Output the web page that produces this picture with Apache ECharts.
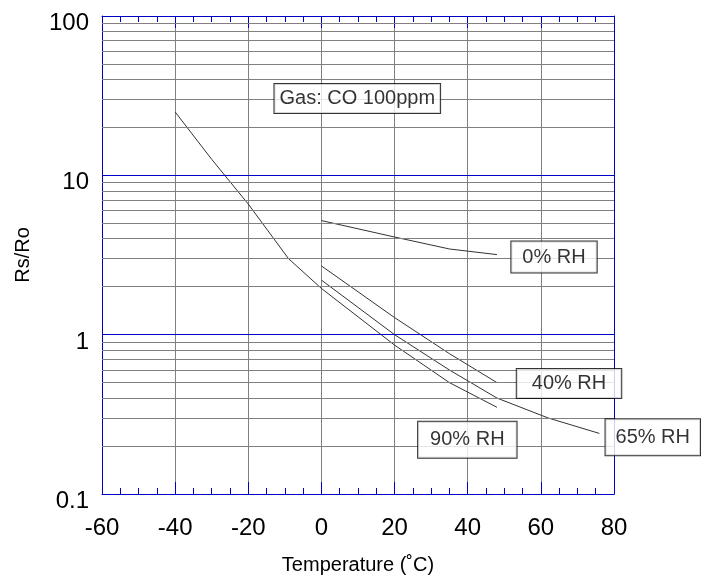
<!DOCTYPE html>
<html><head><meta charset="utf-8">
<script src="https://cdn.jsdelivr.net/npm/echarts@6/dist/echarts.min.js"></script>
<style>html,body{margin:0;padding:0;background:#fff}#c{width:705px;height:576px}</style>
</head><body><div id="c"></div>
<script>
// ---- data ----
const xTickLabels = [-60, -40, -20, 0, 20, 40, 60, 80];
const yTickLabels = [0.1, 1, 10, 100];
const yGridValues = [0.2, 0.3, 0.4, 0.5, 0.6, 0.7, 0.8, 0.9,
                     2, 3, 4, 5, 6, 7, 8, 9,
                     20, 30, 40, 50, 60, 70, 80, 90];
const yDecadeLines = [1, 10];

const temp0 = [0, 20, 35, 48];
const rs0 = [5.2, 4.1, 3.45, 3.18];
const temp40 = [0, 20, 35, 48];
const rs40 = [2.7, 1.28, 0.76, 0.5];
const temp65 = [0, 20, 35, 48, 62, 76];
const rs65 = [2.2, 1.0, 0.6, 0.4, 0.3, 0.24];
const temp90 = [-40, -30, -20, -9, 0, 20, 35, 48];
const rs90 = [25, 12.6, 6.6, 3.0, 1.95, 0.86, 0.5, 0.35];

const noteTexts = ['Gas: CO 100ppm', '0% RH', '40% RH', '90% RH', '65% RH'];
const noteX = [9.8, 63.6, 67.7, 39.9, 90.6];
const noteY = [30.3, 3.07, 0.493, 0.219, 0.227];

// ---- styles ----
const FONT = '"Liberation Sans", Arial, Helvetica, sans-serif';
const BLUE = '#0000c8';
const GRAY = '#808080';
const CURVE = '#333333';
const notePadding = [[4, 5, 5, 5], [6, 11, 5, 11], [5, 15, 4, 15], [8, 12, 8, 12], [8, 10, 8, 10]];

const zip = (xs, ys) => xs.map((x, i) => [x, ys[i]]);

const xMin = xTickLabels[0], xMax = xTickLabels[xTickLabels.length - 1];
const yMin = yTickLabels[0], yMax = yTickLabels[yTickLabels.length - 1];

function xAxisCfg(pos, main) {
  return {
    type: 'value', min: xMin, max: xMax, interval: 20, position: pos, z: 3,
    axisLine: { show: true, onZero: false, lineStyle: { color: BLUE, width: 1 } },
    axisTick: { show: true, inside: true, length: 12, lineStyle: { color: BLUE, width: 1 } },
    minorTick: { show: true, splitNumber: 4, length: 6, lineStyle: { color: BLUE, width: 1 } },
    splitLine: { show: main, lineStyle: { color: GRAY, width: 1 } },
    axisLabel: { show: main, fontSize: 24, color: '#000', margin: 22, fontFamily: FONT },
    name: main ? 'Temperature (˚C)' : '',
    nameLocation: 'middle', nameGap: 61,
    nameTextStyle: { fontSize: 20, color: '#000', fontFamily: FONT }
  };
}
function yAxisCfg(pos, main) {
  return {
    type: 'log', logBase: 10, min: yMin, max: yMax, position: pos, z: 3,
    axisLine: { show: true, onZero: false, lineStyle: { color: BLUE, width: 1 } },
    axisTick: { show: true, inside: true, length: 6, customValues: yGridValues, lineStyle: { color: BLUE, width: 1 } },
    splitLine: { show: false },
    axisLabel: {
      show: main, customValues: yTickLabels, margin: 13,
      formatter: v => '{a|' + v + '}',
      rich: { a: { fontSize: 24, color: '#000', fontFamily: FONT, padding: [15, 0, 0, 0] } }
    },
    name: main ? 'Rs/Ro' : '',
    nameLocation: 'middle', nameGap: 69, nameRotate: 90,
    nameTextStyle: { fontSize: 20, color: '#000', fontFamily: FONT }
  };
}

function curve(name, xs, ys) {
  return {
    name, type: 'line', data: zip(xs, ys), showSymbol: false, symbol: 'none',
    lineStyle: { color: CURVE, width: 1 }, z: 4, silent: true
  };
}

const gridLines = {
  type: 'line', data: [], z: 1, silent: true,
  markLine: {
    silent: true, symbol: 'none', animation: false,
    label: { show: false },
    data: yGridValues.map(v => ({ yAxis: v, lineStyle: { color: GRAY, width: 1, type: 'solid' } }))
      .concat(yDecadeLines.map(v => ({ yAxis: v, lineStyle: { color: BLUE, width: 1, type: 'solid' } })))
  }
};

const notes = {
  type: 'scatter', symbolSize: 0, clip: false, z: 6, silent: true,
  data: noteTexts.map((t, i) => ({
    value: [noteX[i], noteY[i]],
    label: {
      show: true, position: 'inside', formatter: t,
      fontSize: 20, lineHeight: 20, color: '#000', fontFamily: FONT,
      backgroundColor: '#fff', borderColor: '#000', borderWidth: 1,
      padding: notePadding[i]
    }
  }))
};

const chart = echarts.init(document.getElementById('c'), null, { renderer: 'canvas' });
chart.setOption({
  animation: false,
  backgroundColor: '#fff',
  grid: { left: 102, right: 91, top: 16, bottom: 82, containLabel: false, outerBoundsMode: 'none' },
  xAxis: [xAxisCfg('bottom', true), xAxisCfg('top', false)],
  yAxis: [yAxisCfg('left', true), yAxisCfg('right', false)],
  series: [
    gridLines,
    curve('0% RH', temp0, rs0),
    curve('40% RH', temp40, rs40),
    curve('65% RH', temp65, rs65),
    curve('90% RH', temp90, rs90),
    notes
  ]
});
</script></body></html>
